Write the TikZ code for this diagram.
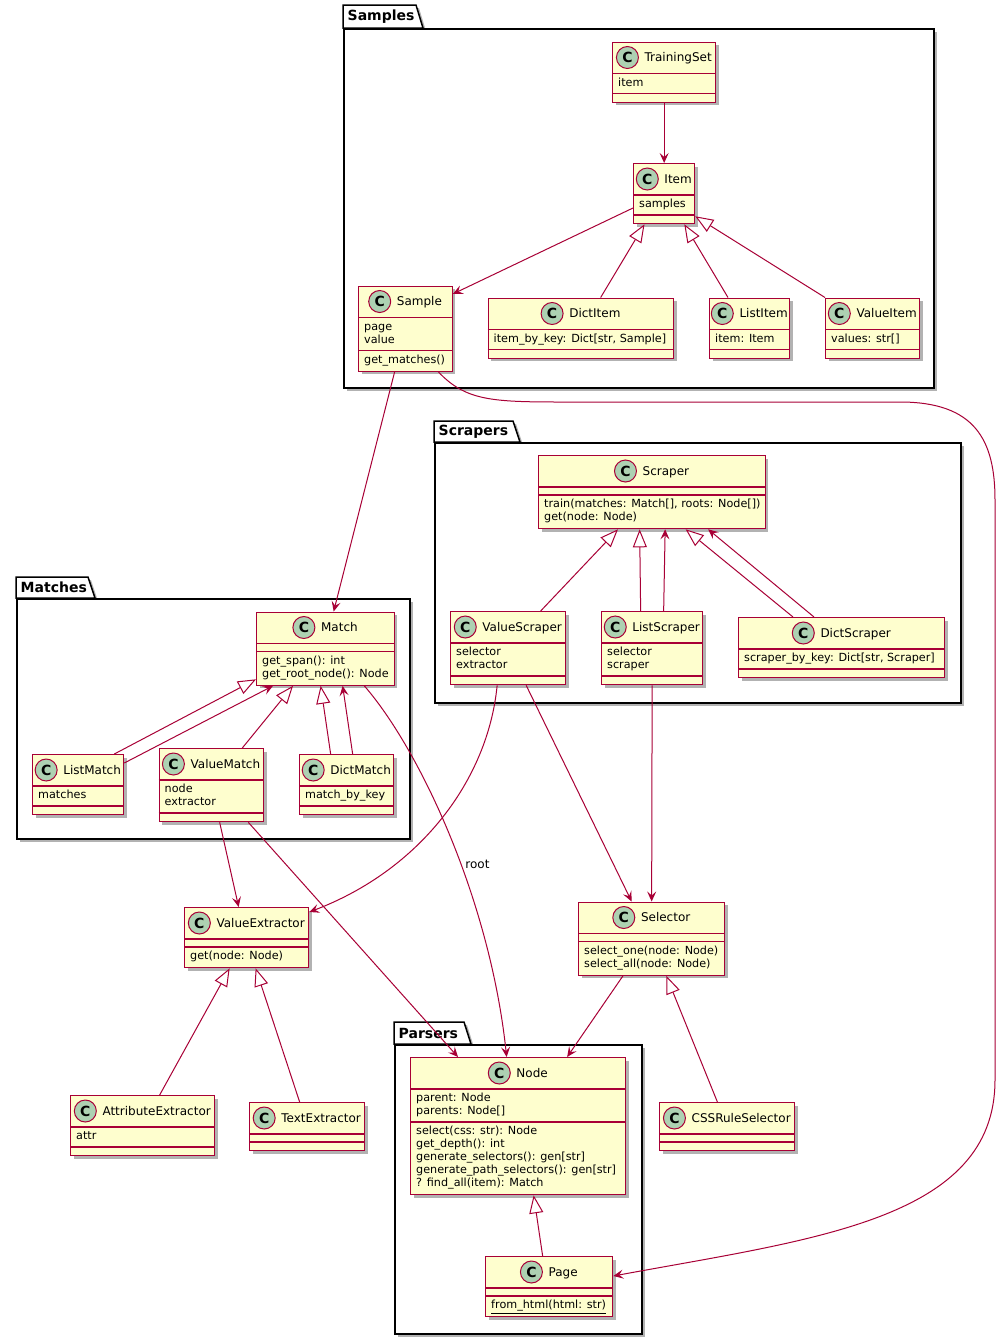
\documentclass[tikz,border=0pt]{standalone}
\usepackage{fontspec}
\setmainfont{DejaVu Sans}
\usetikzlibrary{arrows.meta, shadows}
\definecolor{umlred}{RGB}{168, 0, 54}
\definecolor{umlfill}{RGB}{254, 254, 206}
\definecolor{spotgreen}{RGB}{173, 209, 178}

% class box: id, left, top, right, name, #attr lines, attrs, #method lines, methods
\newcommand{\umlclass}[9]{%
  \pgfmathsetmacro\clsw{#4-#2}%
  \pgfmathsetmacro\clsa{#6>0 ? 7+13*#6 : 8}%
  \pgfmathsetmacro\clsm{#8>0 ? 7+13*#8 : 8}%
  \pgfmathsetmacro\clsh{32+\clsa+\clsm}%
  \node[classbox, minimum width=\clsw pt, minimum height=\clsh pt] (#1) at (#2,#3) {};
  \node[classname] (#1-name) at ([yshift=-16pt]#1.north) {\hspace*{28pt}#5};
  \node[spot] (#1-spot) at ([xshift=11pt]#1-name.west) {C};
  \draw[classline] ([yshift=-32pt]#1.north west) -- ([yshift=-32pt]#1.north east);
  \draw[classline] ([yshift=-32pt-\clsa pt]#1.north west) -- ([yshift=-32pt-\clsa pt]#1.north east);
  \node[members] (#1-attrs) at ([shift={(6pt,-35.5pt)}]#1.north west) {\strut#7\strut};
  \node[members] (#1-ops) at ([shift={(6pt,-35.5pt-\clsa pt)}]#1.north west) {\strut#9\strut};
}

% package: id, left, tab top, tab right, body top, right, bottom, label
\newcommand{\umlpackage}[8]{%
  \draw[pkgtab] (#2,#5) -- (#2,#3) -- (#4,#3) -- ({#4+7},#5) -- cycle;
  \pgfmathsetmacro\pkgw{#6-#2}%
  \pgfmathsetmacro\pkgh{#7-#5}%
  \node[pkgbox, minimum width=\pkgw pt, minimum height=\pkgh pt] (#1) at (#2,#5) {};
  \node[pkgname] (#1-name) at ({#2+4.5},{(#3+#5)/2}) {#8};
}

\begin{document}
\begin{tikzpicture}[
    x=1pt, y=-1pt,
    classbox/.style={rectangle, draw=umlred, fill=umlfill, line width=1.3pt, inner sep=0pt, anchor=north west, drop shadow={shadow xshift=3pt, shadow yshift=-3pt, opacity=0.3, fill=black}},
    classname/.style={inner sep=0pt, text height=9pt, text depth=1pt, font=\fontsize{12}{14}\selectfont},
    spot/.style={circle, draw=umlred, fill=spotgreen, line width=1pt, minimum size=22pt, inner sep=0pt, font=\bfseries\fontsize{14}{14}\selectfont},
    members/.style={anchor=north west, inner sep=0pt, align=left, font=\fontsize{11.2}{13}\selectfont},
    classline/.style={umlred, line width=1.3pt},
    pkgbox/.style={rectangle, draw=black, fill=white, line width=1.5pt, inner sep=0pt, anchor=north west, drop shadow={shadow xshift=3pt, shadow yshift=-3pt, opacity=0.3, fill=black}},
    pkgtab/.style={draw=black, fill=white, line width=1.5pt, drop shadow={shadow xshift=3pt, shadow yshift=-3pt, opacity=0.3, fill=black}},
    pkgname/.style={anchor=west, inner sep=0pt, font=\bfseries\fontsize{14}{16}\selectfont},
    assoc/.style={umlred, line width=1pt, -{Stealth[length=10pt, width=9pt, inset=4pt]}},
    inherit/.style={umlred, line width=1pt, -{Triangle[length=18pt, width=14pt, fill=white]}},
    rootlabel/.style={anchor=west, inner sep=0pt, xshift=4pt, text=black, font=\fontsize{12}{14}\selectfont}
]
    \path[use as bounding box, fill=white] (0,0) rectangle (1002,1339);

    % Packages
    \umlpackage{samples}{343}{5}{416}{28}{933}{387}{Samples}
    \umlpackage{scrapers}{434}{421}{513}{442}{960}{702}{Scrapers}
    \umlpackage{matches}{16}{577}{88}{598}{409}{838}{Matches}
    \umlpackage{parsers}{394}{1022}{464}{1044}{641}{1333}{Parsers}

    % Samples
    \umlclass{trainingset}{612}{41.5}{715}{TrainingSet}{1}{item}{0}{}
    \umlclass{item}{633}{163}{694}{Item}{1}{samples}{0}{}
    \umlclass{sample}{358}{285.5}{451.5}{Sample}{2}{page\\value}{1}{get\_matches()}
    \umlclass{dictitem}{487.5}{297.5}{673}{DictItem}{1}{item\_by\_key: Dict[str, Sample]}{0}{}
    \umlclass{listitem}{709}{297.5}{789}{ListItem}{1}{item: Item}{0}{}
    \umlclass{valueitem}{825}{297.5}{919}{ValueItem}{1}{values: str[]}{0}{}

    % Scrapers
    \umlclass{scraper}{538}{455}{764.5}{Scraper}{0}{}{2}{train(matches: Match[], roots: Node[])\\get(node: Node)}
    \umlclass{valuescraper}{450}{611}{565}{ValueScraper}{2}{selector\\extractor}{0}{}
    \umlclass{listscraper}{601}{611}{702}{ListScraper}{2}{selector\\scraper}{0}{}
    \umlclass{dictscraper}{738}{617}{944}{DictScraper}{1}{scraper\_by\_key: Dict[str, Scraper]}{0}{}

    % Matches
    \umlclass{match}{256}{611.5}{393.5}{Match}{0}{}{2}{get\_span(): int\\get\_root\_node(): Node}
    \umlclass{listmatch}{32}{754}{123}{ListMatch}{1}{matches}{0}{}
    \umlclass{valuematch}{158.5}{748}{263}{ValueMatch}{2}{node\\extractor}{0}{}
    \umlclass{dictmatch}{299}{754}{393}{DictMatch}{1}{match\_by\_key}{0}{}

    % Extractors and selectors
    \umlclass{valueextractor}{184}{907}{308}{ValueExtractor}{0}{}{1}{get(node: Node)}
    \umlclass{attrextractor}{70}{1095}{214}{AttributeExtractor}{1}{attr}{0}{}
    \umlclass{textextractor}{249}{1102}{364}{TextExtractor}{0}{}{0}{}
    \umlclass{selector}{578}{901.5}{724}{Selector}{0}{}{2}{select\_one(node: Node)\\select\_all(node: Node)}
    \umlclass{cssselector}{659}{1102}{794}{CSSRuleSelector}{0}{}{0}{}

    % Parsers
    \umlclass{htmlnode}{410}{1057}{625}{Node}{2}{parent: Node\\parents: Node[]}{5}{select(css: str): Node\\get\_depth(): int\\generate\_selectors(): gen[str]\\generate\_path\_selectors(): gen[str]\\? find\_all(item): Match}
    \umlclass{page}{485}{1256}{612}{Page}{0}{}{1}{\underline{from\_html(html: str)}}

    % Samples links
    \draw[assoc] (trainingset.south) -- (item.north);
    \draw[assoc] ([yshift=-45pt]item.north west) -- ([yshift=-8.5pt]sample.north east);
    \draw[inherit] ([xshift=19.75pt]dictitem.north) -- ([xshift=11.5pt]item.south west);
    \draw[inherit] ([xshift=19pt]listitem.north west) -- ([xshift=-11pt]item.south east);
    \draw[inherit] (valueitem.north west) -- ([yshift=8pt]item.south east);
    \draw[assoc] ([xshift=-10.75pt]sample.south) -- ([xshift=8.25pt]match.north);
    \draw[assoc] ([xshift=-14.5pt]sample.south east) .. controls (465,400) and (490,402) .. (560,402)
        -- (900,402) .. controls (975,402) and (995,440) .. (995,500)
        -- (995,1080) .. controls (995,1220) and (813,1239) .. ([yshift=-20pt]page.north east);

    % Scrapers links
    \draw[inherit] ([xshift=32.5pt]valuescraper.north) -- ([xshift=80pt]scraper.south west);
    \draw[inherit] ([xshift=-11.5pt]listscraper.north) -- ([xshift=-12.25pt]scraper.south);
    \draw[assoc] ([xshift=11.5pt]listscraper.north) -- ([xshift=13.25pt]scraper.south);
    \draw[inherit] ([xshift=55pt]dictscraper.north west) -- ([xshift=33.75pt]scraper.south);
    \draw[assoc] ([xshift=76pt]dictscraper.north west) -- ([xshift=56.25pt]scraper.south);
    \draw[assoc] ([xshift=-11pt]valuescraper.south) .. controls (488,780) and (420,870) .. ([yshift=-5pt]valueextractor.north east);
    \draw[assoc] ([xshift=18pt]valuescraper.south) -- ([xshift=-20pt]selector.north);
    \draw[assoc] (listscraper.south) -- (selector.north);

    % Matches links
    \draw[inherit] ([xshift=-10pt]listmatch.north east) -- ([yshift=6.5pt]match.south west);
    \draw[assoc] ([yshift=-9pt]listmatch.north east) -- ([xshift=17pt]match.south west);
    \draw[inherit] ([xshift=-22pt]valuematch.north east) -- ([xshift=37pt]match.south west);
    \draw[inherit] ([xshift=-16pt]dictmatch.north) -- ([xshift=-4.75pt]match.south);
    \draw[assoc] ([xshift=6pt]dictmatch.north) -- ([xshift=17.25pt]match.south);
    \draw[assoc] ([xshift=-30.5pt]match.south east) .. controls (420,750) and (490,900) .. ([xshift=-11.5pt]htmlnode.north)
        node[rootlabel, pos=0.57] (rootlbl) {root};
    \draw[assoc] ([xshift=8.25pt]valuematch.south) -- ([xshift=-8pt]valueextractor.north);
    \draw[assoc] ([xshift=-16pt]valuematch.south east) -- ([xshift=48pt]htmlnode.north west);

    % Extractors, selectors, parsers
    \draw[inherit] ([xshift=17pt]attrextractor.north) -- ([xshift=-17pt]valueextractor.south);
    \draw[inherit] ([xshift=-7.5pt]textextractor.north) -- ([xshift=9pt]valueextractor.south);
    \draw[assoc] ([xshift=45pt]selector.south west) -- ([xshift=49pt]htmlnode.north);
    \draw[inherit] ([xshift=-9.75pt]cssselector.north) -- ([xshift=14.7pt]selector.south);
    \draw[inherit] ([xshift=-6.5pt]page.north) -- ([xshift=15.5pt]htmlnode.south);
\end{tikzpicture}
\end{document}
